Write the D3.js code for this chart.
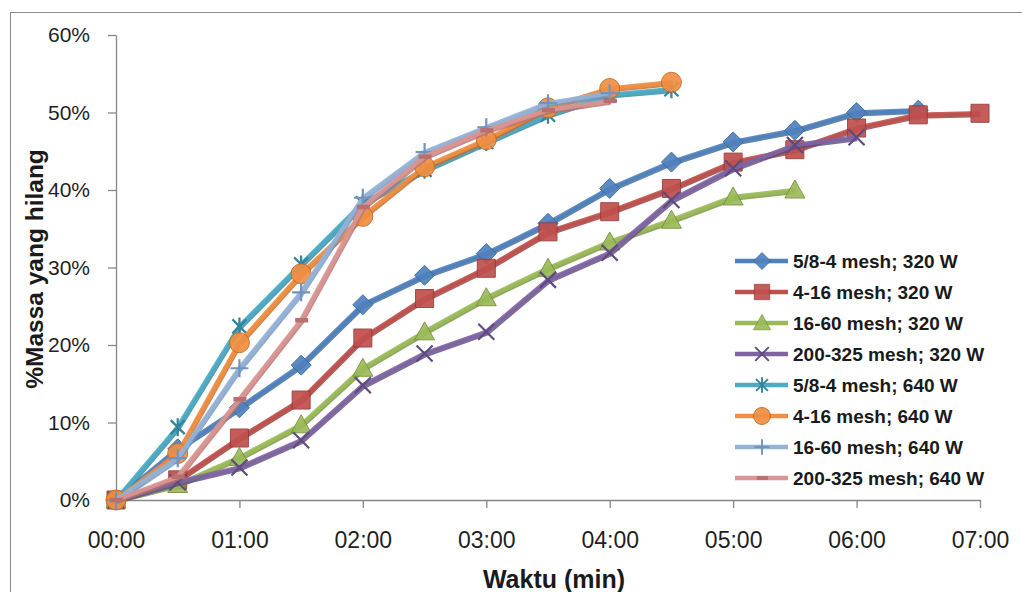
<!DOCTYPE html>
<html>
<head>
<meta charset="utf-8">
<script src="https://cdn.jsdelivr.net/npm/d3@7"></script>
<style>
  body { margin: 0; background: #fff; }
  svg { display: block; font-family: "Liberation Sans", Arial, sans-serif; }
</style>
</head>
<body>
<svg width="1022" height="592"></svg>
<script>
// time in minutes, a point every 30 s
var times = [0, 0.5, 1, 1.5, 2, 2.5, 3, 3.5, 4, 4.5, 5, 5.5, 6, 6.5, 7];
var xTickLabels = ["00:00", "01:00", "02:00", "03:00", "04:00", "05:00", "06:00", "07:00"];
var yTicks = [0, 0.1, 0.2, 0.3, 0.4, 0.5, 0.6];

var seriesNames = [
  "5/8-4 mesh; 320 W", "4-16 mesh; 320 W", "16-60 mesh; 320 W", "200-325 mesh; 320 W",
  "5/8-4 mesh; 640 W", "4-16 mesh; 640 W", "16-60 mesh; 640 W", "200-325 mesh; 640 W"
];
// % mass lost
var mesh58_320 = [0, 6.6, 11.9, 17.4, 25.2, 29.0, 31.8, 35.7, 40.2, 43.6, 46.2, 47.7, 50.0, 50.3];
var mesh416_320 = [0, 2.6, 8.0, 12.9, 20.9, 26.0, 29.9, 34.6, 37.2, 40.2, 43.6, 45.2, 48.0, 49.7, 49.9];
var mesh1660_320 = [0, 2.0, 5.5, 9.7, 17.0, 21.7, 26.1, 29.9, 33.3, 36.1, 39.1, 40.0];
var mesh200_320 = [0, 2.3, 4.2, 7.7, 14.8, 18.9, 21.7, 28.4, 31.9, 38.7, 42.8, 45.8, 46.8];
var mesh58_640 = [0, 9.4, 22.4, 30.4, 38.3, 42.6, 46.2, 49.7, 52.3, 53.0];
var mesh416_640 = [0, 6.0, 20.3, 29.2, 36.6, 43.0, 46.5, 50.6, 53.1, 53.9];
var mesh1660_640 = [0, 5.4, 17.0, 26.8, 39.0, 44.9, 48.1, 51.2, 52.5];
var mesh200_640 = [0, 3.0, 13.0, 23.2, 37.8, 44.3, 47.7, 50.3, 51.5];

var allValues = [mesh58_320, mesh416_320, mesh1660_320, mesh200_320,
                 mesh58_640, mesh416_640, mesh1660_640, mesh200_640];
var colors = ["#4f81bd", "#c0504d", "#9bbb59", "#8064a2", "#4bacc6", "#f08f43", "#95b3d7", "#d99694"];
var darks = ["#3a6799", "#963a37", "#76923c", "#5f4a7e", "#31859c", "#c46a22", "#7393bd", "#b86f6d"];
var markerTypes = ["diamond", "square", "triangle", "x", "star", "circle", "plus", "dash"];

var svg = d3.select("svg");

// chart frame
svg.append("rect")
  .attr("x", 10.5).attr("y", 12.5)
  .attr("width", 1030).attr("height", 600)
  .attr("fill", "none").attr("stroke", "#8c8c8c").attr("stroke-width", 1);

var x = d3.scaleLinear().domain([0, 7]).range([116, 980]);
var y = d3.scaleLinear().domain([0, 0.6]).range([500, 35]);

// axes
var yAxis = svg.append("g")
  .attr("transform", "translate(116,0)")
  .call(d3.axisLeft(y).tickValues(yTicks).tickFormat(d3.format(".0%"))
        .tickSize(8).tickSizeOuter(0).tickPadding(18));
var xAxis = svg.append("g")
  .attr("transform", "translate(0,500)")
  .call(d3.axisBottom(x).tickValues(d3.range(xTickLabels.length))
        .tickFormat(function(d){ return xTickLabels[d]; })
        .tickSize(8).tickSizeOuter(0).tickPadding(24));

[yAxis, xAxis].forEach(function(g){
  g.select(".domain").attr("stroke", "#868686").attr("stroke-width", 1.3);
  g.selectAll(".tick line").attr("stroke", "#868686").attr("stroke-width", 1.3);
  g.selectAll(".tick text").attr("fill", "#1f1f1f").attr("font-family", "Liberation Sans, Arial, sans-serif");
});
yAxis.selectAll(".tick text").attr("font-size", 21);
xAxis.selectAll(".tick text").attr("font-size", 23);

// axis titles
svg.append("text")
  .attr("transform", "translate(43,269) rotate(-90)")
  .attr("text-anchor", "middle")
  .attr("font-size", 24.5).attr("font-weight", "bold").attr("fill", "#1a1a1a")
  .text("%Massa yang hilang");
svg.append("text")
  .attr("x", 554).attr("y", 588)
  .attr("text-anchor", "middle")
  .attr("font-size", 25).attr("font-weight", "bold").attr("fill", "#1a1a1a")
  .text("Waktu (min)");

function markerPath(type){
  if (type == "diamond") return "M0,-10L10,0L0,10L-10,0Z";
  if (type == "square") return "M-9,-9H9V9H-9Z";
  if (type == "triangle") return "M0,-10L10,8L-10,8Z";
  if (type == "x") return "M-8,-8L8,8M-8,8L8,-8";
  if (type == "star") return "M-7,-7L7,7M-7,7L7,-7M0,-9V9";
  if (type == "plus") return "M-9,0H9M0,-9V9";
  if (type == "dash") return "M-6,0H7";
  return "";
}
function drawMarker(g, type, i, scale){
  if (type == "circle") {
    g.append("circle").attr("r", 10 * scale)
      .attr("fill", colors[i]).attr("stroke", darks[i]).attr("stroke-width", 1).attr("opacity", 0.92);
  } else if (type == "x" || type == "star" || type == "plus") {
    g.append("path").attr("d", markerPath(type)).attr("transform", "scale(" + scale + ")")
      .attr("fill", "none").attr("stroke", darks[i]).attr("stroke-width", 2.2);
  } else if (type == "dash") {
    g.append("path").attr("d", markerPath(type)).attr("transform", "scale(" + scale + ")")
      .attr("fill", "none").attr("stroke", darks[i]).attr("stroke-width", 4.5);
  } else {
    g.append("path").attr("d", markerPath(type)).attr("transform", "scale(" + scale + ")")
      .attr("fill", colors[i]).attr("stroke", darks[i]).attr("stroke-width", 1).attr("opacity", 0.92);
  }
}

var line = d3.line()
  .x(function(d){ return x(d.t); })
  .y(function(d){ return y(d.v / 100); });

allValues.forEach(function(vals, i){
  var pts = vals.map(function(v, k){ return {t: times[k], v: v}; });
  var g = svg.append("g").attr("class", "series");
  // darker shadow edge like the Excel style
  g.append("path").datum(pts)
    .attr("d", line).attr("transform", "translate(0.6,1.4)")
    .attr("fill", "none").attr("stroke", darks[i]).attr("stroke-width", 5)
    .attr("stroke-linejoin", "round").attr("opacity", 0.8);
  g.append("path").datum(pts)
    .attr("d", line)
    .attr("fill", "none").attr("stroke", colors[i]).attr("stroke-width", 4.5)
    .attr("stroke-linejoin", "round").attr("opacity", 0.9);
  g.selectAll("g.mk").data(pts).enter().append("g")
    .attr("class", "mk")
    .attr("transform", function(d){ return "translate(" + x(d.t) + "," + y(d.v / 100) + ")"; })
    .each(function(){ drawMarker(d3.select(this), markerTypes[i], i, 1); });
});

// legend
var legend = svg.append("g").attr("transform", "translate(735,261)");
seriesNames.forEach(function(name, i){
  var row = legend.append("g").attr("transform", "translate(0," + (i * 31) + ")");
  row.append("line").attr("x1", 0).attr("x2", 53)
    .attr("stroke", colors[i]).attr("stroke-width", 4.5);
  drawMarker(row.append("g").attr("transform", "translate(27,0)"), markerTypes[i], i, 0.85);
  row.append("text").attr("x", 58).attr("dy", "0.35em")
    .attr("font-size", 19).attr("font-weight", "bold").attr("fill", "#1a1a1a")
    .text(name);
});
</script>
</body>
</html>
